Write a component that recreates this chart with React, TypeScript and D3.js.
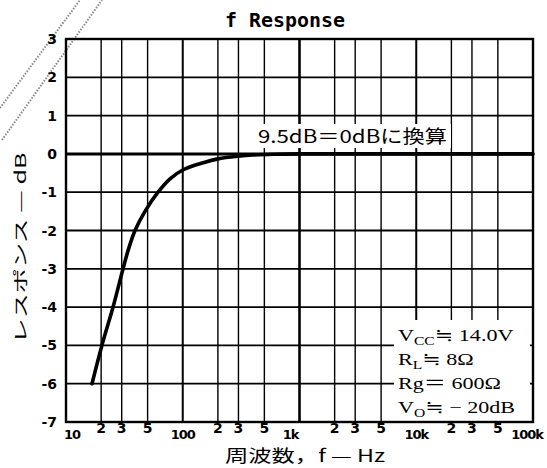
import React from 'react';
import * as d3 from 'd3';

const freqs = [16.7, 20.3, 25.3, 30.8, 34.2, 39.0, 47.5, 61.4, 77.8, 100, 150, 200, 300, 400, 600, 1000, 10000, 100000];
const response = [-6, -5, -4, -3, -2.5, -2, -1.5, -1, -0.65, -0.42, -0.23, -0.13, -0.06, -0.03, -0.01, 0, 0, 0];
const yTicks = [3, 2, 1, 0, -1, -2, -3, -4, -5, -6, -7];
const decades = [10, 100, 1000, 10000, 100000];
const decadeLabels = ['10', '100', '1k', '10k', '100k'];
const minorMultipliers = [2, 3, 5];
const title = 'f Response';
const xTitle = '周波数，f — Hz';
const yTitle = 'レスポンス — dB';
const note = '9.5dB＝0dBに換算';
const conditions = [
  { main: 'V', sub: 'CC', rest: '≒ 14.0V' },
  { main: 'R', sub: 'L', rest: '≒ 8Ω' },
  { main: 'Rg', sub: '', rest: '＝ 600Ω' },
  { main: 'V', sub: 'O', rest: '≒ − 20dB' },
];

const W = 547;
const H = 468;
const L = 66, R = 533, T = 39, B = 422;

export default function App() {
  const x = d3.scaleLog().domain([10, 100000]).range([L, R]);
  const y = d3.scaleLinear().domain([-7, 3]).range([B, T]);

  const minorVals: number[] = [];
  decades.slice(0, -1).forEach((d) => minorMultipliers.forEach((m) => minorVals.push(d * m)));

  const line = d3
    .line<number>()
    .x((_, i) => x(freqs[i]))
    .y((v) => y(v))
    .curve(d3.curveCatmullRom.alpha(0.5));

  const sans = 'DejaVu Sans, sans-serif';
  const jp = '"Noto Sans CJK JP", sans-serif';
  const serif = '"Liberation Serif", "DejaVu Serif", "Noto Sans CJK JP", serif';

  return (
    <svg width={W} height={H} style={{ position: 'absolute', left: 0, top: 0, background: '#fff' }}>
      <rect x={0} y={0} width={W} height={H} fill="#fff" />
      {/* scan artifacts: diagonal dotted strokes */}
      <line x1={0} y1={108} x2={80} y2={0} stroke="#888" strokeWidth={2} strokeDasharray="1.5 1.5" />
      <line x1={2} y1={140} x2={102} y2={0} stroke="#888" strokeWidth={2} strokeDasharray="1.5 1.5" />

      {/* grid */}
      {minorVals.map((v) => (
        <line key={'mv' + v} x1={x(v)} x2={x(v)} y1={T} y2={B} stroke="#000" strokeWidth={1.4} />
      ))}
      {decades.map((v) => (
        <line key={'dv' + v} x1={x(v)} x2={x(v)} y1={T} y2={B} stroke="#000" strokeWidth={v === 1000 ? 2.6 : 2} />
      ))}
      {yTicks.map((v) => (
        <line key={'h' + v} x1={L} x2={R} y1={y(v)} y2={y(v)} stroke="#000" strokeWidth={v === 0 ? 3 : 1.8} />
      ))}

      {/* white boxes behind texts */}
      <rect x={255} y={124} width={196} height={24} fill="#fff" />
      <rect x={394} y={320} width={136} height={101} fill="#fff" />

      {/* curve */}
      <path d={line(response) || ''} fill="none" stroke="#000" strokeWidth={3.6} strokeLinejoin="round" strokeLinecap="round" />

      {/* frame */}
      <rect x={L} y={T} width={R - L} height={B - T} fill="none" stroke="#000" strokeWidth={2.4} />

      {/* y tick labels */}
      {yTicks.map((v) => (
        <text key={'yl' + v} x={57} y={y(v)} dy="0.36em" textAnchor="end" fontFamily={sans} fontWeight="bold" fontSize={14}>
          {v < 0 ? '-' + Math.abs(v) : String(v)}
        </text>
      ))}

      {/* x tick labels */}
      {minorVals.map((v) => (
        <text key={'xm' + v} x={x(v)} y={428} dy="0.36em" textAnchor="middle" fontFamily={sans} fontWeight="bold" fontSize={14}>
          {String(v / Math.pow(10, Math.floor(Math.log10(v))))}
        </text>
      ))}
      {decades.map((v, i) => (
        <text
          key={'xd' + v}
          x={i === 0 ? 64 : i === decades.length - 1 ? 543 : i === 2 ? x(v) - 9 : x(v)}
          y={434}
          dy="0.36em"
          textAnchor={i === 0 ? 'start' : i === decades.length - 1 ? 'end' : 'middle'}
          fontFamily={sans}
          fontWeight="bold"
          fontSize={13}
          letterSpacing={-1}
        >
          {decadeLabels[i]}
        </text>
      ))}

      {/* title */}
      <text x={285} y={27} textAnchor="middle" fontFamily="DejaVu Sans Mono, monospace" fontSize={20} fontWeight="bold" textLength={120} lengthAdjust="spacingAndGlyphs">
        {title}
      </text>

      {/* axis titles */}
      <text x={305} y={462} textAnchor="middle" fontFamily={jp} fontSize={17} textLength={160} lengthAdjust="spacingAndGlyphs">
        {xTitle}
      </text>
      <text
        transform="translate(26,248) rotate(-90)"
        textAnchor="middle"
        fontFamily={jp}
        fontSize={15}
        textLength={191}
        lengthAdjust="spacingAndGlyphs"
      >
        {yTitle}
      </text>

      {/* annotation */}
      <text x={258} y={143} fontFamily={jp} fontSize={18} textLength={189} lengthAdjust="spacingAndGlyphs">
        {note}
      </text>

      {/* conditions */}
      {conditions.map((c, i) => (
        <text key={'c' + i} transform={`translate(398,${341 + i * 24}) scale(1.3,1)`} fontFamily={serif} fontSize={17}>
          <tspan>{c.main}</tspan>
          {c.sub ? (
            <tspan fontSize={12} dy={4}>
              {c.sub}
            </tspan>
          ) : null}
          <tspan dy={c.sub ? -4 : 0}>{c.rest}</tspan>
        </text>
      ))}
    </svg>
  );
}
